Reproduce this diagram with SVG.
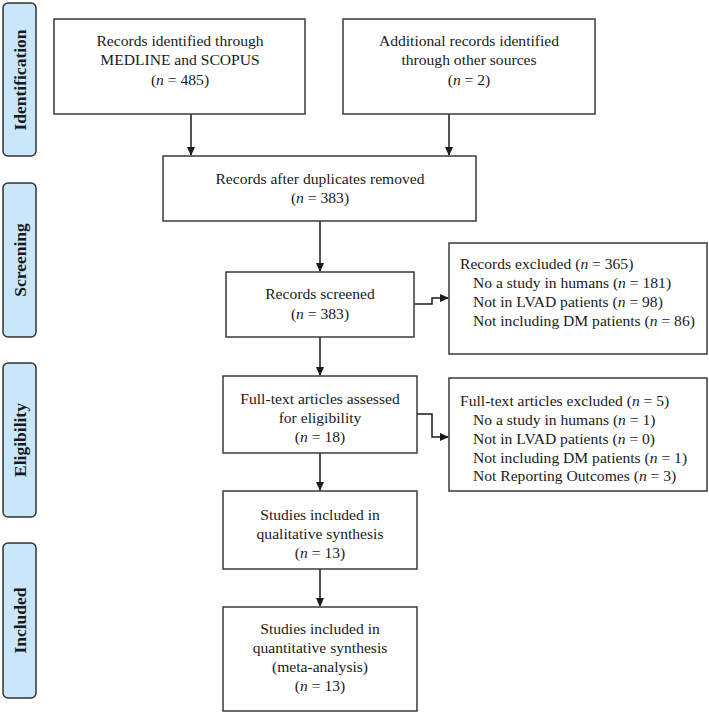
<svg xmlns="http://www.w3.org/2000/svg" width="709" height="713" viewBox="0 0 709 713">
<style>
.box{fill:#fff;stroke:#3a3a3a;stroke-width:1.5}
.side{fill:#c9e6fa;stroke:#333;stroke-width:1.5}
.t{font-family:"Liberation Serif","Times New Roman",serif;font-size:15.6px;fill:#1a1a1a}
.c{text-anchor:middle}
.s{font-family:"Liberation Serif","Times New Roman",serif;font-size:17.5px;font-weight:bold;fill:#1a1a1a;text-anchor:middle}
.con{fill:none;stroke:#1a1a1a;stroke-width:1.5;marker-end:url(#ah)}
</style>
<defs>
<marker id="ah" markerWidth="9" markerHeight="9" refX="8" refY="4.5" orient="auto" markerUnits="userSpaceOnUse">
<path d="M0,0.5 L9,4.5 L0,8.5 Z" fill="#1a1a1a"/>
</marker>
</defs>
<rect width="709" height="713" fill="#fff"/>
<g id="stage-identification"><rect class="side" x="3" y="3" width="33" height="153" rx="5"/><text class="s" transform="translate(25.5,80) rotate(-90)">Identification</text></g>
<g id="stage-screening"><rect class="side" x="3" y="183" width="33" height="154" rx="5"/><text class="s" transform="translate(25.5,260) rotate(-90)">Screening</text></g>
<g id="stage-eligibility"><rect class="side" x="3" y="363" width="33" height="154" rx="5"/><text class="s" transform="translate(25.5,440) rotate(-90)">Eligibility</text></g>
<g id="stage-included"><rect class="side" x="3" y="543" width="33" height="155" rx="5"/><text class="s" transform="translate(25.5,620.5) rotate(-90)">Included</text></g>

<g id="connectors">
<path class="con" d="M191,114 V155"/>
<path class="con" d="M449,114 V155"/>
<path class="con" d="M320,221 V271"/>
<path class="con" d="M320,337 V375"/>
<path class="con" d="M320,453 V490"/>
<path class="con" d="M320,569 V606"/>
<path class="con" d="M414,304 H432 V298 H448"/>
<path class="con" d="M417,414 H432 V437 H448"/>
</g>

<g id="n1"><rect class="box" x="54" y="19" width="251" height="95"/>
<text class="t c" x="180" y="46">Records identified through</text>
<text class="t c" x="180" y="65">MEDLINE and SCOPUS</text>
<text class="t c" x="180" y="85">(<tspan font-style="italic">n</tspan> = 485)</text></g>

<g id="n2"><rect class="box" x="343" y="19" width="252" height="95"/>
<text class="t c" x="469" y="46">Additional records identified</text>
<text class="t c" x="469" y="65">through other sources</text>
<text class="t c" x="469" y="85">(<tspan font-style="italic">n</tspan> = 2)</text></g>

<g id="n3"><rect class="box" x="163" y="156" width="313" height="65"/>
<text class="t c" x="320" y="184">Records after duplicates removed</text>
<text class="t c" x="320" y="203">(<tspan font-style="italic">n</tspan> = 383)</text></g>

<g id="n4"><rect class="box" x="226" y="272" width="188" height="65"/>
<text class="t c" x="320" y="299">Records screened</text>
<text class="t c" x="320" y="319">(<tspan font-style="italic">n</tspan> = 383)</text></g>

<g id="n5"><rect class="box" x="449" y="243" width="258" height="111"/>
<text class="t" x="460" y="269">Records excluded (<tspan font-style="italic">n</tspan> = 365)</text>
<text class="t" x="473" y="288">No a study in humans (<tspan font-style="italic">n</tspan> = 181)</text>
<text class="t" x="473" y="307">Not in LVAD patients (<tspan font-style="italic">n</tspan> = 98)</text>
<text class="t" x="473" y="326">Not including DM patients (<tspan font-style="italic">n</tspan> = 86)</text></g>

<g id="n6"><rect class="box" x="223" y="376" width="194" height="77"/>
<text class="t c" x="320" y="404">Full-text articles assessed</text>
<text class="t c" x="320" y="423">for eligibility</text>
<text class="t c" x="320" y="442">(<tspan font-style="italic">n</tspan> = 18)</text></g>

<g id="n7"><rect class="box" x="449" y="378" width="258" height="113"/>
<text class="t" x="460" y="406">Full-text articles excluded (<tspan font-style="italic">n</tspan> = 5)</text>
<text class="t" x="473" y="425">No a study in humans (<tspan font-style="italic">n</tspan> = 1)</text>
<text class="t" x="473" y="444">Not in LVAD patients (<tspan font-style="italic">n</tspan> = 0)</text>
<text class="t" x="473" y="463">Not including DM patients (<tspan font-style="italic">n</tspan> = 1)</text>
<text class="t" x="473" y="481">Not Reporting Outcomes (<tspan font-style="italic">n</tspan> = 3)</text></g>

<g id="n8"><rect class="box" x="223" y="491" width="194" height="78"/>
<text class="t c" x="320" y="520">Studies included in</text>
<text class="t c" x="320" y="539">qualitative synthesis</text>
<text class="t c" x="320" y="558">(<tspan font-style="italic">n</tspan> = 13)</text></g>

<g id="n9"><rect class="box" x="223" y="607" width="194" height="104"/>
<text class="t c" x="320" y="634">Studies included in</text>
<text class="t c" x="320" y="653">quantitative synthesis</text>
<text class="t c" x="320" y="672">(meta-analysis)</text>
<text class="t c" x="320" y="691">(<tspan font-style="italic">n</tspan> = 13)</text></g>
</svg>
